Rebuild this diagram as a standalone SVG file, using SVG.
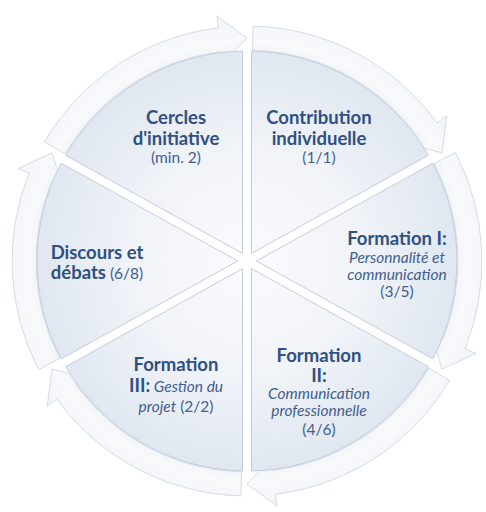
<svg xmlns="http://www.w3.org/2000/svg" width="486" height="512" viewBox="0 0 486 512">
  <defs>
    <radialGradient id="wedgeGrad" gradientUnits="userSpaceOnUse" cx="247" cy="261" r="212">
      <stop offset="0" stop-color="#fafbfd"/>
      <stop offset="0.55" stop-color="#f0f3f8"/>
      <stop offset="1" stop-color="#e0e7f0"/>
    </radialGradient>
    <radialGradient id="arrowGrad" gradientUnits="userSpaceOnUse" cx="247" cy="261" r="250">
      <stop offset="0.78" stop-color="#e8edf3"/>
      <stop offset="0.88" stop-color="#f8f9fb"/>
      <stop offset="1" stop-color="#eff2f6"/>
    </radialGradient>
    <style>
      .wedge { fill: url(#wedgeGrad); stroke: #c2cddc; stroke-width: 1; }
      .arrow { fill: url(#arrowGrad); fill-opacity: 0.92; stroke: #d5dce6; stroke-width: 1; }
      .t { font-family: Lato, "Liberation Sans", sans-serif; text-anchor: middle; fill: #2f5082; }
      .b { font-weight: bold; font-size: 18.5px; }
      .r { font-size: 15.5px; fill: #3f6091; }
      .i { font-size: 15.5px; font-style: italic; fill: #3f6091; }
    </style>
  </defs>
  <rect width="486" height="512" fill="#ffffff"/>

  <g id="connectors">
    <path class="arrow" d="M 44.5 141.7 A 235 235 0 0 1 218.4 27.8 L 216.9 15.9 L 247 38 L 222.7 63.5 L 221.3 51.6 A 211 211 0 0 0 65.2 153.9 Z"/>
    <path class="arrow" d="M 253.2 26.1 A 235 235 0 0 1 437.1 122.9 L 446.8 115.8 L 442 152.9 L 408 144 L 417.7 137 A 211 211 0 0 0 252.5 50.1 Z"/>
    <path class="arrow" d="M 455.4 152.5 A 235 235 0 0 1 464.9 349 L 476 353.5 L 442 369.1 L 431.5 335.5 L 442.6 340 A 211 211 0 0 0 434.2 163.6 Z"/>
    <path class="arrow" d="M 449.5 380.3 A 235 235 0 0 1 275.6 494.2 L 277.1 506.1 L 247 484 L 271.3 458.5 L 272.7 470.4 A 211 211 0 0 0 428.8 368.1 Z"/>
    <path class="arrow" d="M 240.8 495.9 A 235 235 0 0 1 56.9 399.1 L 47.2 406.2 L 52 369.1 L 86 378 L 76.3 385 A 211 211 0 0 0 241.5 471.9 Z"/>
    <path class="arrow" d="M 38.6 369.5 A 235 235 0 0 1 29.1 173 L 18 168.5 L 52 152.9 L 62.5 186.5 L 51.4 182 A 211 211 0 0 0 59.8 358.4 Z"/>
  </g>

  <g id="cercles">
    <path class="wedge" d="M 242.5 253.4 L 65.6 155.3 A 210 210 0 0 1 242.5 51 Z"/>
    <text class="t b" x="176" y="124">Cercles</text>
    <text class="t b" x="176" y="145">d'initiative</text>
    <text class="t r" x="176" y="163">(min. 2)</text>
  </g>

  <g id="contribution">
    <path class="wedge" d="M 251.5 253.4 L 251.5 51 A 210 210 0 0 1 428.4 155.3 Z"/>
    <text class="t b" x="319" y="124">Contribution</text>
    <text class="t b" x="319" y="145">individuelle</text>
    <text class="t r" x="319" y="163">(1/1)</text>
  </g>

  <g id="formation1">
    <path class="wedge" d="M 256.3 261 L 432.8 163.2 A 210 210 0 0 1 432.8 358.8 Z"/>
    <text class="t b" x="397" y="245">Formation I:</text>
    <text class="t i" x="397" y="263">Personnalité et</text>
    <text class="t i" x="397" y="280">communication</text>
    <text class="t r" x="397" y="297">(3/5)</text>
  </g>

  <g id="formation2">
    <path class="wedge" d="M 251.5 268.6 L 428.4 366.7 A 210 210 0 0 1 251.5 471 Z"/>
    <text class="t b" x="319" y="362">Formation</text>
    <text class="t b" x="319" y="382">II:</text>
    <text class="t i" x="319" y="399">Communication</text>
    <text class="t i" x="319" y="416">professionnelle</text>
    <text class="t r" x="319" y="435">(4/6)</text>
  </g>

  <g id="formation3">
    <path class="wedge" d="M 242.5 268.6 L 242.5 471 A 210 210 0 0 1 65.6 366.7 Z"/>
    <text class="t b" x="176" y="371">Formation</text>
    <text class="t" x="176" y="392"><tspan class="b">III:</tspan><tspan class="i"> Gestion du</tspan></text>
    <text class="t" x="176" y="412"><tspan class="i">projet</tspan><tspan class="r"> (2/2)</tspan></text>
  </g>

  <g id="discours">
    <path class="wedge" d="M 237.7 261 L 61.2 358.8 A 210 210 0 0 1 61.2 163.2 Z"/>
    <text class="t b" x="97" y="259">Discours et</text>
    <text class="t" x="97" y="279"><tspan class="b">débats</tspan><tspan class="r"> (6/8)</tspan></text>
  </g>
</svg>
